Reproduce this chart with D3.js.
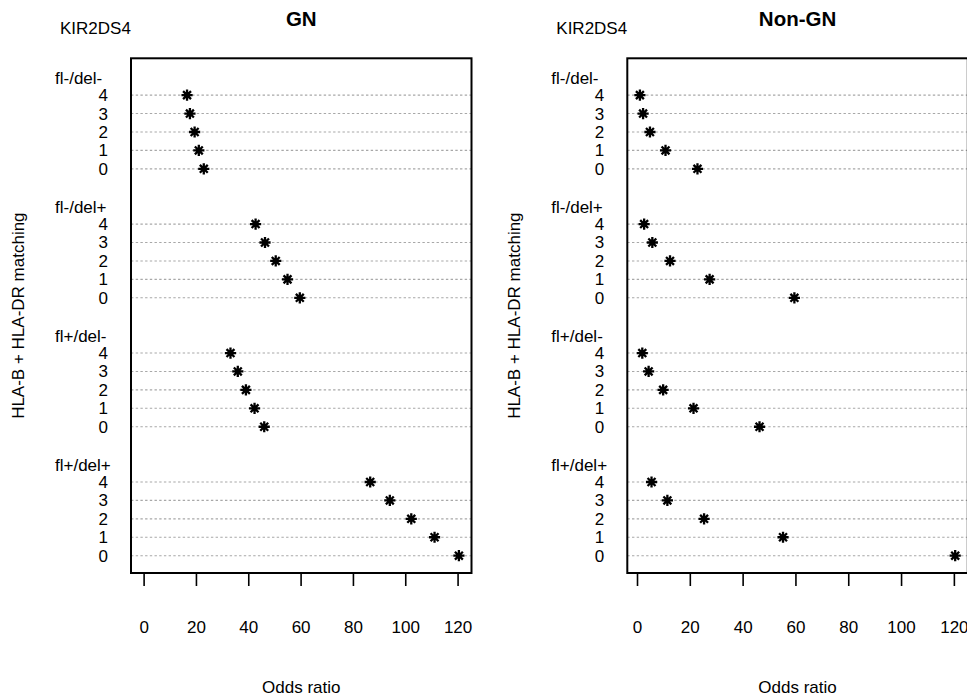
<!DOCTYPE html>
<html>
<head>
<meta charset="utf-8">
<script src="https://cdn.jsdelivr.net/npm/d3@7"></script>
<style>
    body { margin: 0; background: #fff; }
    text { font-family: "Liberation Sans", Arial, sans-serif; fill: #000; }
</style>
</head>
<body>
<div id="chart"></div>
<script>

// data
const groups = ["fl-/del-", "fl-/del+", "fl+/del-", "fl+/del+"];
const matchLevels = ["4", "3", "2", "1", "0"];
const gnOdds = [
    [16.6, 17.7, 19.5, 21.1, 23.0],
    [42.8, 46.4, 50.5, 55.0, 59.7],
    [33.2, 36.0, 39.1, 42.4, 46.1],
    [86.6, 94.1, 102.3, 111.2, 120.5]
];
const nonGnOdds = [
    [1.1, 2.3, 4.9, 10.8, 22.9],
    [2.7, 5.8, 12.5, 27.5, 59.6],
    [2.0, 4.4, 9.9, 21.4, 46.4],
    [5.5, 11.5, 25.4, 55.3, 120.5]
];
const xTicks = [0, 20, 40, 60, 80, 100, 120];


class DotChart {

    constructor(svg, opts) {
        this.svg = svg;
        this.opts = opts;
        this.initVis();
    }

    initVis() {
        let vis = this;
        let o = vis.opts;

        vis.width = 340.5;
        vis.height = 514.7;
        vis.fs = "17px";

        vis.g = vis.svg.append("g")
            .attr("transform", "translate(" + o.left + "," + o.top + ")");

        // flatten into rows, one slot per line (group label, 5 rows, blank)
        vis.rows = [];
        groups.forEach(function(grp, gi) {
            matchLevels.forEach(function(lv, li) {
                vis.rows.push({group: grp, level: lv, slot: gi * 7 + 1 + li, value: o.values[gi][li]});
            });
        });

        let all = vis.rows.map(d => d.value);
        let lo = o.fromZero ? 0 : d3.min(all);
        let hi = d3.max(all);
        let pad = (hi - lo) * 0.04;

        vis.x = d3.scaleLinear()
            .domain([lo - pad, hi + pad])
            .range([0, vis.width]);

        vis.y = d3.scaleLinear()
            .domain([-1, 26.94])
            .range([0, vis.height]);

        // dashed guide lines
        vis.g.selectAll(".guide")
            .data(vis.rows)
            .enter().append("line")
            .attr("class", "guide")
            .attr("x1", 0)
            .attr("x2", vis.width)
            .attr("y1", d => vis.y(d.slot))
            .attr("y2", d => vis.y(d.slot))
            .attr("stroke", "#a8a8a8")
            .attr("stroke-width", 1.1)
            .attr("stroke-dasharray", "2.4,2.3");

        // row labels
        vis.g.selectAll(".lvl")
            .data(vis.rows)
            .enter().append("text")
            .attr("class", "lvl")
            .attr("x", -23)
            .attr("y", d => vis.y(d.slot))
            .attr("dy", "0.35em")
            .attr("text-anchor", "end")
            .attr("font-size", vis.fs)
            .text(d => d.level);

        vis.g.selectAll(".grp")
            .data(groups)
            .enter().append("text")
            .attr("class", "grp")
            .attr("x", -76)
            .attr("y", (d, i) => vis.y(i * 7) + 1.5)
            .attr("dy", "0.35em")
            .attr("font-size", vis.fs)
            .text(d => d);

        // asterisks (R pch 8)
        let r = 5.6;
        let star = "";
        for (let k = 0; k < 4; k++) {
            let a = k * Math.PI / 4;
            let dx = r * Math.cos(a), dy = r * Math.sin(a);
            star += "M" + (-dx) + "," + (-dy) + "L" + dx + "," + dy;
        }
        vis.g.selectAll(".pt")
            .data(vis.rows)
            .enter().append("path")
            .attr("class", "pt")
            .attr("d", star)
            .attr("transform", d => "translate(" + vis.x(d.value) + "," + vis.y(d.slot) + ")")
            .attr("stroke", "#000")
            .attr("stroke-width", 2.3)
            .attr("fill", "none");

        // box
        vis.g.append("rect")
            .attr("width", vis.width)
            .attr("height", vis.height)
            .attr("fill", "none")
            .attr("stroke", "#000")
            .attr("stroke-width", 2);

        // x axis: ticks only, hanging below the box
        let xAxis = vis.g.append("g")
            .attr("class", "x-axis")
            .attr("transform", "translate(0," + vis.height + ")")
            .call(d3.axisBottom(vis.x).tickValues(xTicks).tickSize(13).tickPadding(34.9));
        xAxis.select(".domain").remove();
        xAxis.selectAll(".tick line").attr("stroke", "#000").attr("stroke-width", 1.6);
        xAxis.selectAll(".tick text")
            .attr("font-size", vis.fs)
            .attr("font-family", "Liberation Sans, Arial, sans-serif")
            .attr("fill", "#000");

        // titles
        vis.g.append("text")
            .attr("x", vis.width / 2)
            .attr("y", 26 - o.top)
            .attr("text-anchor", "middle")
            .attr("font-size", "20.5px")
            .attr("font-weight", "bold")
            .text(o.title);

        vis.g.append("text")
            .attr("x", -71)
            .attr("y", 34 - o.top)
            .attr("font-size", vis.fs)
            .text("KIR2DS4");

        vis.g.append("text")
            .attr("x", vis.width / 2)
            .attr("y", 693 - o.top)
            .attr("text-anchor", "middle")
            .attr("font-size", vis.fs)
            .text("Odds ratio");

        vis.g.append("text")
            .attr("transform", "translate(-107," + (vis.height / 2) + ") rotate(-90)")
            .attr("text-anchor", "middle")
            .attr("font-size", vis.fs)
            .text("HLA-B + HLA-DR matching");
    }
}

let svg = d3.select("#chart").append("svg")
    .attr("width", 967)
    .attr("height", 699)
    .style("display", "block");

svg.append("rect").attr("width", 967).attr("height", 699).attr("fill", "#fff");

new DotChart(svg, {left: 131, top: 58.3, title: "GN", values: gnOdds, fromZero: true});
new DotChart(svg, {left: 627.3, top: 58.3, title: "Non-GN", values: nonGnOdds, fromZero: false});

</script>
</body>
</html>
